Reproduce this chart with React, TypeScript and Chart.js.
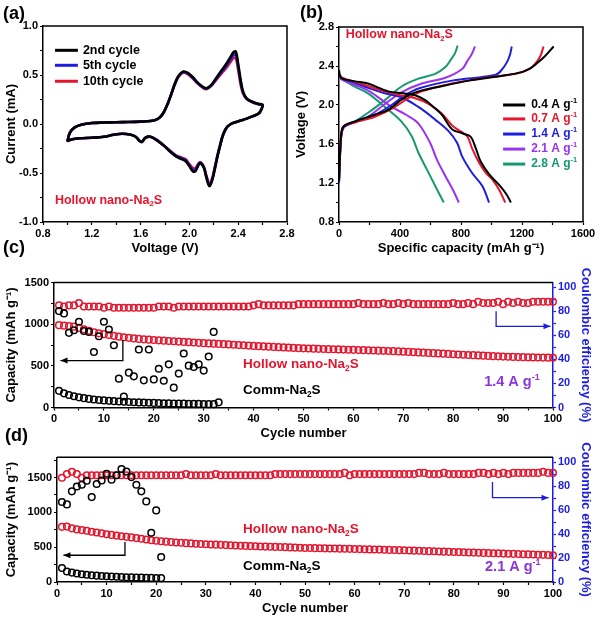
import React, { useEffect, useRef } from "react";
import { Chart, registerables } from "chart.js";

Chart.register(...registerables);

const FONT = '"Liberation Sans", Arial, Helvetica, sans-serif';
const RED = "#e3162e";
const BLUE = "#1d1de0";
const PURPLE = "#9b32ee";
const GREEN = "#16996f";
const BLACK = "#000000";
const TEXT_PURPLE = "#8c36d8";

// ---------- (a) cyclic voltammetry ----------
const cvVoltage = [
  1.0, 1.02, 1.06, 1.12, 1.2, 1.3, 1.4, 1.5, 1.6, 1.68, 1.73, 1.76, 1.79, 1.82, 1.85, 1.88, 1.91, 1.95, 1.99,
  2.03, 2.07, 2.11, 2.14, 2.18, 2.22, 2.26, 2.3, 2.33, 2.36, 2.38, 2.4, 2.42, 2.44, 2.47, 2.52, 2.57, 2.6,
  2.59, 2.57, 2.52, 2.47, 2.42, 2.37, 2.34, 2.31, 2.29, 2.27, 2.25, 2.23, 2.21, 2.19, 2.165, 2.14, 2.12, 2.1,
  2.085, 2.07, 2.05, 2.03, 2.0, 1.97, 1.93, 1.89, 1.84, 1.79, 1.73, 1.68, 1.64, 1.61, 1.59, 1.56, 1.52, 1.45,
  1.38, 1.3, 1.2, 1.1, 1.04, 1.0,
];
const cv2nd = [
  -0.18, -0.09, -0.035, -0.005, 0.01, 0.015, 0.018, 0.02, 0.024, 0.03, 0.045, 0.07, 0.12, 0.2, 0.3, 0.41, 0.49,
  0.535, 0.52, 0.475, 0.42, 0.38, 0.365, 0.4, 0.47, 0.54, 0.61, 0.67, 0.73, 0.74, 0.61, 0.45, 0.33, 0.26, 0.225,
  0.205, 0.195,
  0.15, 0.11, 0.08, 0.055, 0.035, 0.015, 0.0, -0.03, -0.07, -0.13, -0.23, -0.33, -0.45, -0.56, -0.635, -0.55,
  -0.45, -0.41, -0.4, -0.43, -0.48, -0.485, -0.43, -0.38, -0.355, -0.33, -0.28, -0.22, -0.165, -0.13, -0.14,
  -0.185, -0.17, -0.13, -0.11, -0.1, -0.11, -0.13, -0.14, -0.145, -0.155, -0.175,
];
const cv5th = [
  -0.18, -0.09, -0.035, -0.005, 0.01, 0.015, 0.018, 0.02, 0.024, 0.03, 0.045, 0.07, 0.12, 0.2, 0.3, 0.405, 0.485,
  0.53, 0.513, 0.468, 0.415, 0.375, 0.36, 0.395, 0.46, 0.525, 0.59, 0.645, 0.7, 0.71, 0.58, 0.43, 0.32, 0.258,
  0.222, 0.202, 0.192,
  0.15, 0.11, 0.08, 0.055, 0.035, 0.015, 0.0, -0.03, -0.07, -0.135, -0.225, -0.325, -0.44, -0.55, -0.63, -0.54,
  -0.445, -0.405, -0.395, -0.42, -0.465, -0.47, -0.42, -0.37, -0.345, -0.325, -0.275, -0.22, -0.16, -0.13, -0.14,
  -0.18, -0.17, -0.13, -0.11, -0.1, -0.11, -0.13, -0.14, -0.145, -0.155, -0.175,
];
const cv10th = [
  -0.18, -0.09, -0.035, -0.005, 0.01, 0.015, 0.018, 0.02, 0.024, 0.03, 0.045, 0.07, 0.12, 0.2, 0.3, 0.4, 0.48,
  0.525, 0.505, 0.46, 0.41, 0.37, 0.355, 0.39, 0.45, 0.51, 0.57, 0.62, 0.67, 0.67, 0.55, 0.4, 0.31, 0.255, 0.22,
  0.2, 0.19,
  0.15, 0.11, 0.08, 0.055, 0.035, 0.015, 0.0, -0.03, -0.07, -0.13, -0.22, -0.32, -0.43, -0.54, -0.61, -0.53,
  -0.44, -0.4, -0.39, -0.41, -0.45, -0.45, -0.41, -0.36, -0.34, -0.32, -0.27, -0.22, -0.16, -0.13, -0.14, -0.18,
  -0.17, -0.13, -0.11, -0.1, -0.11, -0.13, -0.14, -0.145, -0.155, -0.175,
];
const cvLabels = ["2nd cycle", "5th cycle", "10th cycle"];

// ---------- (b) charge / discharge ----------
const rateLabels = ["0.4 A g^{-1}", "0.7 A g^{-1}", "1.4 A g^{-1}", "2.1 A g^{-1}", "2.8 A g^{-1}"];
const dis04Cap = [0, 14, 100, 190, 323, 420, 499, 565, 620, 675, 742, 808, 863, 896, 929, 984, 1050, 1100, 1127];
const dis04V = [2.36, 2.28, 2.245, 2.22, 2.14, 2.12, 2.1, 2.05, 1.98, 1.9, 1.75, 1.71, 1.675, 1.56, 1.42, 1.29, 1.18, 1.08, 1.0];
const dis07Cap = [0, 20, 100, 200, 300, 400, 500, 590, 675, 742, 797, 841, 874, 918, 960, 1006, 1050, 1090];
const dis07V = [2.32, 2.28, 2.24, 2.19, 2.14, 2.1, 2.07, 2.01, 1.91, 1.79, 1.73, 1.68, 1.55, 1.41, 1.31, 1.235, 1.13, 1.0];
const dis14Cap = [0, 20, 100, 200, 300, 410, 521, 631, 720, 775, 808, 874, 940, 984];
const dis14V = [2.31, 2.27, 2.23, 2.17, 2.12, 2.08, 1.98, 1.85, 1.73, 1.61, 1.47, 1.3, 1.17, 1.0];
const dis21Cap = [0, 20, 100, 200, 345, 440, 521, 598, 642, 698, 750, 786];
const dis21V = [2.3, 2.26, 2.21, 2.14, 1.98, 1.9, 1.81, 1.61, 1.44, 1.27, 1.12, 1.0];
const dis28Cap = [0, 100, 190, 301, 410, 477, 521, 576, 631, 687];
const dis28V = [2.28, 2.19, 2.12, 1.98, 1.83, 1.68, 1.51, 1.34, 1.17, 1.0];
const ch04Cap = [0, 8, 18, 36, 102, 235, 323, 389, 455, 543, 631, 852, 1072, 1204, 1260, 1300, 1350, 1407];
const ch04V = [1.22, 1.55, 1.74, 1.79, 1.83, 1.9, 1.95, 2.03, 2.1, 2.15, 2.18, 2.25, 2.3, 2.34, 2.38, 2.43, 2.5, 2.6];
const ch07Cap = [0, 8, 18, 36, 102, 235, 345, 455, 543, 742, 962, 1160, 1249, 1290, 1320, 1341];
const ch07V = [1.22, 1.55, 1.74, 1.79, 1.82, 1.88, 1.96, 2.07, 2.14, 2.22, 2.28, 2.32, 2.37, 2.43, 2.5, 2.6];
const ch14Cap = [0, 8, 18, 36, 102, 235, 345, 433, 521, 742, 1028, 1072, 1105, 1122, 1133];
const ch14V = [1.2, 1.52, 1.72, 1.78, 1.83, 1.9, 2.0, 2.1, 2.17, 2.25, 2.31, 2.37, 2.45, 2.52, 2.6];
const ch21Cap = [0, 8, 18, 36, 102, 191, 301, 410, 543, 698, 808, 841, 870, 892];
const ch21V = [1.2, 1.52, 1.72, 1.78, 1.82, 1.88, 2.01, 2.13, 2.22, 2.28, 2.37, 2.45, 2.52, 2.6];
const ch28Cap = [0, 8, 18, 36, 102, 191, 301, 410, 521, 631, 698, 731, 760, 778];
const ch28V = [1.2, 1.52, 1.72, 1.78, 1.83, 1.92, 2.05, 2.19, 2.27, 2.32, 2.39, 2.46, 2.53, 2.61];

// ---------- (c) cycling at 1.4 A/g ----------
const cHollowCap = [
  988, 982, 978, 970, 955, 938, 920, 903, 890, 880,
  870, 860, 850, 843, 836, 829, 823, 818, 814, 810,
  806, 802, 798, 795, 791, 787, 784, 780, 776, 772,
  769, 766, 763, 760, 757, 753, 750, 747, 743, 739,
  736, 733, 730, 727, 724, 721, 718, 715, 712, 710,
  708, 706, 704, 702, 700, 699, 697, 695, 693, 692,
  690, 688, 686, 684, 682, 680, 678, 676, 673, 670,
  667, 664, 661, 658, 655, 652, 649, 646, 643, 639,
  636, 633, 630, 628, 625, 622, 619, 616, 614, 611,
  609, 607, 605, 604, 602, 601, 600, 599, 598, 597,
];
const cHollowCE = [
  85, 84, 85, 85, 87, 84, 84, 84, 84, 83,
  84, 83, 83, 83, 83, 83, 83, 83, 83, 83,
  84, 84, 84, 83, 84, 84, 84, 84, 84, 84,
  84, 84, 84, 84, 84, 84, 84, 84, 84, 85,
  86, 85, 85, 85, 85, 85, 85, 85, 86, 86,
  86, 86, 86, 86, 86, 86, 86, 86, 86, 86,
  87, 86, 86, 86, 86, 87, 86, 86, 87, 86,
  87, 86, 86, 86, 86, 86, 86, 86, 86, 87,
  86, 86, 87, 86, 88, 87, 87, 87, 88, 86,
  88, 87, 88, 87, 87, 88, 88, 88, 88, 88,
];
const cCommCap = [
  200, 170, 150, 135, 122, 112, 103, 96, 90, 85, 80, 76, 72, 69, 66, 63, 61, 59, 57, 55,
  53, 51, 50, 48, 47, 46, 45, 44, 43, 42, 41, 40, 62,
];
const cCommCE = [
  80.2, 78.3, 62.1, 64.3, 71.3, 63.7, 62.9, 46.2, 59.3, 71.3, 64.9, 51.8, 24.0, 9.2, 29.0, 25.9,
  48.2, 22.6, 48.2, 23.4, 32.3, 22.3, 35.9, 16.5, 28.2, 44.9, 34.8, 33.7, 35.9, 30.7, 42.4, 62.9,
];

// ---------- (d) cycling at 2.1 A/g ----------
const dHollowCap = [
  792, 795, 770, 755, 745, 735, 722, 710, 698, 686,
  676, 666, 657, 648, 640, 630, 620, 610, 600, 592,
  585, 579, 573, 568, 563, 558, 554, 550, 546, 542,
  539, 536, 533, 530, 527, 524, 521, 518, 515, 513,
  510, 508, 506, 504, 502, 500, 497, 494, 491, 489,
  487, 486, 484, 483, 481, 480, 479, 477, 476, 474,
  472, 470, 468, 467, 465, 463, 461, 459, 457, 455,
  453, 450, 448, 446, 443, 441, 438, 436, 433, 431,
  429, 427, 424, 422, 420, 418, 415, 413, 411, 408,
  406, 404, 401, 399, 397, 394, 392, 390, 387, 384,
];
const dHollowCE = [
  87, 90, 92, 90, 87, 89, 89, 89, 89, 89,
  89, 89, 89, 89, 89, 89, 89, 89, 89, 89,
  89, 89, 89, 89, 89, 90, 89, 89, 89, 89,
  89, 90, 89, 89, 89, 89, 89, 89, 89, 89,
  89, 89, 89, 90, 90, 90, 90, 90, 90, 90,
  90, 90, 90, 90, 90, 90, 90, 91, 89, 90,
  90, 90, 90, 90, 90, 90, 90, 90, 90, 90,
  90, 90, 91, 91, 90, 90, 90, 91, 90, 90,
  90, 90, 90, 90, 91, 91, 90, 91, 90, 91,
  90, 91, 91, 91, 91, 91, 91, 92, 91, 91,
];
const dCommCap = [200, 150, 135, 122, 112, 104, 97, 91, 86, 82, 78, 75, 72, 69, 67, 65, 63, 61, 59, 58, 56];
const dCommCE = [
  66.7, 64.7, 75.6, 79.7, 81.1, 84.4, 70.8, 81.7, 84.7, 90.3, 85.3, 89.0, 94.2, 92.2, 87.5, 81.1,
  75.6, 67.2, 41.1, 59.7, 20.8,
];

const cycles = Array.from({ length: 100 }, (_, i) => i + 1);

// ---------- helpers ----------
type Seg = { t: string; mode: "n" | "sub" | "sup" };
function parseRich(s: string): Seg[] {
  const out: Seg[] = [];
  const re = /([_^])\{([^}]*)\}/g;
  let last = 0;
  let m: RegExpExecArray | null;
  while ((m = re.exec(s))) {
    if (m.index > last) out.push({ t: s.slice(last, m.index), mode: "n" });
    out.push({ t: m[2], mode: m[1] === "_" ? "sub" : "sup" });
    last = re.lastIndex;
  }
  if (last < s.length) out.push({ t: s.slice(last), mode: "n" });
  return out;
}
function drawRich(ctx: CanvasRenderingContext2D, text: string, x: number, y: number, size: number, color: string) {
  let cx = x;
  ctx.fillStyle = color;
  ctx.textBaseline = "middle";
  ctx.textAlign = "left";
  for (const seg of parseRich(text)) {
    const sz = seg.mode === "n" ? size : size * 0.62;
    ctx.font = `bold ${sz}px ${FONT}`;
    const dy = seg.mode === "sub" ? size * 0.3 : seg.mode === "sup" ? -size * 0.32 : 0;
    ctx.fillText(seg.t, cx, y + dy);
    cx += ctx.measureText(seg.t).width;
  }
}

type TextNote = { x: number; y: number; axis?: string; text: string; size: number; color: string };
type LegendNote = { x1: number; x2: number; tx: number; y: number; color: string; text: string; textColor: string; size: number };
type ArrowNote = { pts: [number, number][]; axis: string; color: string };
type Spec = { frame: "full" | "top"; texts?: TextNote[]; legend?: LegendNote[]; arrows?: ArrowNote[] };

function notesPlugin(spec: Spec) {
  return {
    id: "notes",
    beforeDatasetsDraw(chart: any) {
      const { ctx, chartArea: a } = chart;
      ctx.save();
      ctx.strokeStyle = BLACK;
      ctx.lineWidth = 1.5;
      ctx.beginPath();
      ctx.moveTo(a.left, a.top);
      ctx.lineTo(a.right, a.top);
      if (spec.frame === "full") ctx.lineTo(a.right, a.bottom);
      ctx.stroke();
      ctx.restore();
    },
    afterDraw(chart: any) {
      const { ctx } = chart;
      const xs = chart.scales.x;
      ctx.save();
      for (const l of spec.legend || []) {
        const ys = chart.scales.y;
        const py = ys.getPixelForValue(l.y);
        ctx.strokeStyle = l.color;
        ctx.lineWidth = 3;
        ctx.beginPath();
        ctx.moveTo(xs.getPixelForValue(l.x1), py);
        ctx.lineTo(xs.getPixelForValue(l.x2), py);
        ctx.stroke();
        drawRich(ctx, l.text, xs.getPixelForValue(l.tx), py, l.size, l.textColor);
      }
      for (const t of spec.texts || []) {
        const ys = chart.scales[t.axis || "y"];
        drawRich(ctx, t.text, xs.getPixelForValue(t.x), ys.getPixelForValue(t.y), t.size, t.color);
      }
      for (const ar of spec.arrows || []) {
        const ys = chart.scales[ar.axis];
        const p = ar.pts.map(([x, y]) => [xs.getPixelForValue(x), ys.getPixelForValue(y)]);
        ctx.strokeStyle = ar.color;
        ctx.fillStyle = ar.color;
        ctx.lineWidth = 1.3;
        ctx.beginPath();
        ctx.moveTo(p[0][0], p[0][1]);
        for (let i = 1; i < p.length; i++) ctx.lineTo(p[i][0], p[i][1]);
        ctx.stroke();
        const [ex, ey] = p[p.length - 1];
        const [sx, sy] = p[p.length - 2];
        const ang = Math.atan2(ey - sy, ex - sx);
        const L = 7, W = 3;
        ctx.beginPath();
        ctx.moveTo(ex, ey);
        ctx.lineTo(ex - L * Math.cos(ang) + W * Math.sin(ang), ey - L * Math.sin(ang) - W * Math.cos(ang));
        ctx.lineTo(ex - L * Math.cos(ang) - W * Math.sin(ang), ey - L * Math.sin(ang) + W * Math.cos(ang));
        ctx.closePath();
        ctx.fill();
      }
      ctx.restore();
    },
  };
}

function isMult(v: number, step: number) {
  const r = v / step;
  return Math.abs(r - Math.round(r)) < 1e-6;
}

function makeScale(o: {
  position: string; min: number; max: number; step: number; labelStep: number; decimals: number;
  color: string; title: string; fixed: number;
}) {
  const horizontal = o.position === "bottom";
  const tickValues: number[] = [];
  for (let k = Math.ceil(o.min / o.step - 1e-9); k * o.step <= o.max + 1e-9; k++) {
    tickValues.push(Math.round(k * o.step * 1e6) / 1e6);
  }
  return {
    type: "linear",
    position: o.position,
    min: o.min,
    max: o.max,
    border: { display: true, color: o.color, width: 1.5 },
    grid: { drawOnChartArea: false, drawTicks: true, tickLength: 3, tickWidth: 1.2, tickColor: o.color, color: o.color },
    afterBuildTicks: (s: any) => {
      s.ticks = tickValues.map((value) => ({ value }));
    },
    ticks: {
      autoSkip: false,
      maxRotation: 0,
      minRotation: 0,
      padding: 2,
      color: o.color,
      font: { family: FONT, size: 11, weight: "bold" },
      callback: (v: any) => (isMult(Number(v), o.labelStep) ? Number(v).toFixed(o.decimals) : ""),
    },
    title: {
      display: true,
      text: o.title,
      color: o.color,
      font: { family: FONT, size: 13, weight: "bold" },
      padding: { top: 4, bottom: 4 },
    },
    afterFit: (s: any) => {
      if (horizontal) s.height = o.fixed;
      else s.width = o.fixed;
    },
  };
}

const baseOptions = (padding: any) => ({
  responsive: false,
  animation: false,
  layout: { padding },
  plugins: { legend: { display: false }, tooltip: { enabled: false } },
});

function lineSet(xs: number[], ys: number[], color: string, width: number) {
  return {
    data: xs.map((x, i) => ({ x, y: ys[i] })),
    showLine: true,
    borderColor: color,
    backgroundColor: color,
    borderWidth: width,
    pointRadius: 0,
    tension: 0.35,
    fill: false,
  };
}

function pointSet(ys: number[], color: string, axis: string) {
  return {
    data: ys.map((y, i) => ({ x: cycles[i], y })),
    yAxisID: axis,
    showLine: false,
    borderColor: color,
    backgroundColor: "rgba(255,255,255,0)",
    borderWidth: 1.5,
    pointRadius: 3.3,
    pointStyle: "circle",
    clip: 6,
  };
}

function buildA(canvas: HTMLCanvasElement) {
  const colors = [BLACK, BLUE, RED];
  const series = [cv2nd, cv5th, cv10th];
  const legendY = [0.752, 0.599, 0.436];
  return new Chart(canvas, {
    type: "scatter",
    data: { datasets: series.map((s, i) => lineSet(cvVoltage, s, colors[i], 2.6)) as any },
    options: {
      ...baseOptions({ left: 0, right: 13, top: 26, bottom: 0 }),
      scales: {
        x: makeScale({ position: "bottom", min: 0.8, max: 2.8, step: 0.2, labelStep: 0.4, decimals: 1, color: BLACK, title: "Voltage (V)", fixed: 38 }),
        y: makeScale({ position: "left", min: -1, max: 1, step: 0.25, labelStep: 0.5, decimals: 1, color: BLACK, title: "Current (mA)", fixed: 43 }),
      },
    } as any,
    plugins: [
      notesPlugin({
        frame: "full",
        legend: cvLabels.map((t, i) => ({ x1: 0.898, x2: 1.086, tx: 1.127, y: legendY[i], color: colors[i], text: t, textColor: BLACK, size: 12.5 })),
        texts: [{ x: 0.898, y: -0.78, text: "Hollow nano-Na_{2}S", size: 12.5, color: RED }],
      }),
    ] as any,
  });
}

function buildB(canvas: HTMLCanvasElement) {
  const colors = [BLACK, RED, BLUE, PURPLE, GREEN];
  const dis = [[dis04Cap, dis04V], [dis07Cap, dis07V], [dis14Cap, dis14V], [dis21Cap, dis21V], [dis28Cap, dis28V]];
  const ch = [[ch04Cap, ch04V], [ch07Cap, ch07V], [ch14Cap, ch14V], [ch21Cap, ch21V], [ch28Cap, ch28V]];
  const datasets: any[] = [];
  for (let i = 0; i < 5; i++) {
    datasets.push(lineSet(dis[i][0], dis[i][1], colors[i], 2));
    datasets.push(lineSet(ch[i][0], ch[i][1], colors[i], 2));
  }
  const legendY = [2.0, 1.857, 1.702, 1.548, 1.394];
  return new Chart(canvas, {
    type: "scatter",
    data: { datasets },
    options: {
      ...baseOptions({ left: 0, right: 17, top: 27, bottom: 0 }),
      scales: {
        x: makeScale({ position: "bottom", min: 0, max: 1600, step: 200, labelStep: 400, decimals: 0, color: BLACK, title: "Specific capacity (mAh g⁻¹)", fixed: 38 }),
        y: makeScale({ position: "left", min: 0.8, max: 2.8, step: 0.2, labelStep: 0.4, decimals: 1, color: BLACK, title: "Voltage (V)", fixed: 49 }),
      },
    } as any,
    plugins: [
      notesPlugin({
        frame: "full",
        legend: rateLabels.map((t, i) => ({ x1: 1076, x2: 1221, tx: 1260, y: legendY[i], color: colors[i], text: t, textColor: colors[i], size: 12 })),
        texts: [{ x: 44, y: 2.72, text: "Hollow nano-Na_{2}S", size: 12.5, color: RED }],
      }),
    ] as any,
  });
}

function buildCycling(
  canvas: HTMLCanvasElement,
  hollowCap: number[], hollowCE: number[], commCap: number[], commCE: number[],
  cfg: { yMax: number; left: number; top: number; xH: number; notes: Spec }
) {
  return new Chart(canvas, {
    type: "scatter",
    data: {
      datasets: [
        pointSet(commCap, BLACK, "y"),
        pointSet(commCE, BLACK, "y1"),
        pointSet(hollowCap, RED, "y"),
        pointSet(hollowCE, RED, "y1"),
      ] as any,
    },
    options: {
      ...baseOptions({ left: 0, right: 3, top: cfg.top, bottom: 0 }),
      scales: {
        x: makeScale({ position: "bottom", min: 0, max: 100, step: 5, labelStep: 10, decimals: 0, color: BLACK, title: "Cycle number", fixed: cfg.xH }),
        y: makeScale({ position: "left", min: 0, max: cfg.yMax, step: 250, labelStep: 500, decimals: 0, color: BLACK, title: "Capacity (mAh g⁻¹)", fixed: cfg.left }),
        y1: makeScale({ position: "right", min: 0, max: 104, step: 10, labelStep: 20, decimals: 0, color: BLUE, title: "Coulombic efficiency (%)", fixed: 44 }),
      },
    } as any,
    plugins: [notesPlugin(cfg.notes)] as any,
  });
}

export default function App() {
  const ra = useRef<HTMLCanvasElement>(null);
  const rb = useRef<HTMLCanvasElement>(null);
  const rc = useRef<HTMLCanvasElement>(null);
  const rd = useRef<HTMLCanvasElement>(null);

  useEffect(() => {
    const charts = [
      buildA(ra.current!),
      buildB(rb.current!),
      buildCycling(rc.current!, cHollowCap, cHollowCE, cCommCap, cCommCE, {
        yMax: 1500, left: 54, top: 20.5, xH: 37.5,
        notes: {
          frame: "top",
          texts: [
            { x: 37.9, y: 518, text: "Hollow nano-Na_{2}S", size: 13.5, color: RED },
            { x: 37.9, y: 208, text: "Comm-Na_{2}S", size: 13.5, color: BLACK },
            { x: 86.2, y: 303, text: "1.4 A g^{-1}", size: 14.5, color: TEXT_PURPLE },
          ],
          arrows: [
            { axis: "y", pts: [[13.8, 810], [13.8, 563], [1.3, 563]], color: BLACK },
            { axis: "y1", pts: [[88.6, 80], [88.6, 67.5], [99.5, 67.5]], color: BLUE },
          ],
        },
      }),
      buildCycling(rd.current!, dHollowCap, dHollowCE, dCommCap, dCommCE, {
        yMax: 1790, left: 57, top: 17.3, xH: 38,
        notes: {
          frame: "top",
          texts: [
            { x: 37.5, y: 757, text: "Hollow nano-Na_{2}S", size: 13.5, color: RED },
            { x: 37.5, y: 226, text: "Comm-Na_{2}S", size: 13.5, color: BLACK },
            { x: 86.3, y: 211, text: "2.1 A g^{-1}", size: 14.5, color: TEXT_PURPLE },
          ],
          arrows: [
            { axis: "y", pts: [[13.7, 575], [13.7, 384], [1.3, 384]], color: BLACK },
            { axis: "y1", pts: [[87.8, 83.3], [87.8, 70.3], [99.1, 70.3]], color: BLUE },
          ],
        },
      }),
    ];
    return () => charts.forEach((c) => c.destroy());
  }, []);

  const label = (text: string, left: number, top: number) => (
    <div style={{ position: "absolute", left, top, font: `bold 18px ${FONT}`, lineHeight: "20px", color: BLACK }}>{text}</div>
  );

  return (
    <div style={{ position: "absolute", left: 0, top: 0, width: 600, height: 620, background: "#fff", overflow: "hidden" }}>
      <canvas ref={ra} width={300} height={260} style={{ position: "absolute", left: 0, top: 0, width: 300, height: 260 }} />
      <canvas ref={rb} width={310} height={260} style={{ position: "absolute", left: 290, top: 0, width: 310, height: 260 }} />
      <canvas ref={rc} width={600} height={183} style={{ position: "absolute", left: 0, top: 262, width: 600, height: 183 }} />
      <canvas ref={rd} width={600} height={180} style={{ position: "absolute", left: 0, top: 440, width: 600, height: 180 }} />
      {label("(a)", 3, 3)}
      {label("(b)", 300, 2)}
      {label("(c)", 3, 237)}
      {label("(d)", 5, 425)}
    </div>
  );
}
